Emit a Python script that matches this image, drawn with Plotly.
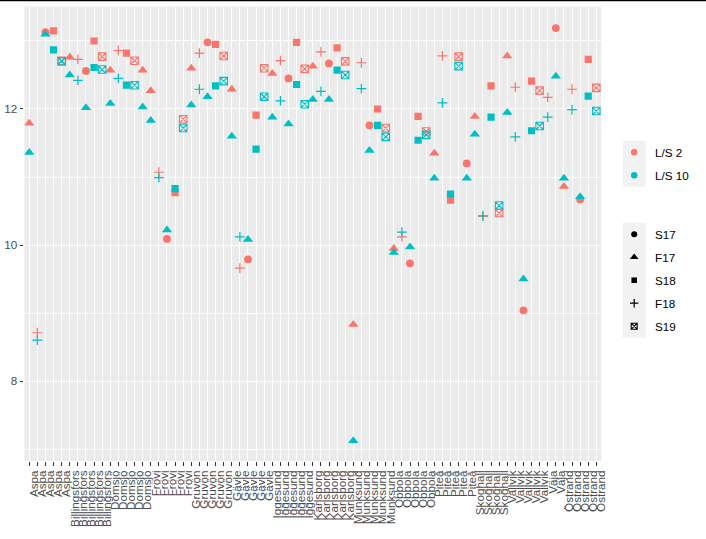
import plotly.graph_objects as go

# ---------------- data ----------------
sites = ["Aspa", "Billingsfors", "Domsjö", "Frövi", "Gruvön", "Gävle", "Iggesund",
         "Karlsborg", "Munksund", "Obbola", "Piteå", "Skoghall", "Vallvik", "Väja", "Östrand"]
site_counts = [5, 5, 5, 5, 5, 5, 5, 5, 5, 5, 5, 4, 5, 2, 5]
tick_labels = [s for s, c in zip(sites, site_counts) for _ in range(c)]

ls2_season = ["F17", "F18", "S17", "S18", "S19",
              "F17", "F18", "S17", "S18", "S19",
              "F17", "F18", "S18", "S19", "F17",
              "F17", "F18", "S17", "S18", "S19",
              "F17", "F18", "S17", "S18", "S19",
              "F17", "F18", "S17", "S18", "S19",
              "F17", "F18", "S17", "S18", "S19",
              "F17", "F18", "S17", "S18", "S19",
              "F17", "F18", "S17", "S18", "S19",
              "F17", "F18", "S17", "S18", "S19",
              "F17", "F18", "S18", "S19", "S17",
              "F17", "F18", "S18", "S19",
              "F17", "F18", "S17", "S18", "S19",
              "F18", "S17",
              "F17", "F18", "S17", "S18", "S19"]
ls10_season = ["F17" if s == "S17" else s for s in ls2_season]

ls2 = [11.79, 8.71, 13.13, 13.15, 12.71,
       12.76, 12.73, 12.56, 13.00, 12.77,
       12.57, 12.86, 12.82, 12.71, 12.57,
       12.27, 11.07, 10.09, 10.77, 11.85,
       12.60, 12.82, 12.98, 12.95, 12.78,
       12.29, 9.66, 9.79, 11.91, 12.60,
       12.52, 12.71, 12.45, 12.98, 12.59,
       12.63, 12.84, 12.67, 12.90, 12.70,
       8.83, 12.68, 11.76, 12.00, 11.72,
       9.95, 10.12, 9.73, 11.89, 11.67,
       11.35, 12.78, 10.66, 12.77, 11.20,
       11.89, 10.42, 12.34, 10.47,
       12.78, 12.32, 9.04, 12.41, 12.27,
       12.17, 13.19,
       10.86, 12.29, 10.67, 12.73, 12.31]

ls10 = [11.36, 8.60, 13.10, 12.87, 12.70,
        12.50, 12.42, 12.02, 12.61, 12.58,
        12.08, 12.45, 12.35, 12.35, 12.03,
        11.83, 10.99, 10.22, 10.83, 11.72,
        12.06, 12.29, 12.18, 12.34, 12.41,
        11.60, 10.12, 10.08, 11.41, 12.18,
        11.88, 12.12, 11.78, 12.36, 12.07,
        12.14, 12.26, 12.14, 12.57, 12.50,
        7.12, 12.30, 11.39, 11.76, 11.59,
        9.89, 10.19, 9.97, 11.54, 11.62,
        10.98, 12.09, 10.75, 12.63, 10.98,
        11.63, 10.43, 11.88, 10.58,
        11.95, 11.59, 9.50, 11.68, 11.75,
        11.88, 12.48,
        10.98, 11.99, 10.71, 12.19, 11.97]

series_names = ["L/S 2", "L/S 10"]
series_colors = ["#F8766D", "#00BFC4"]
seasons = ["S17", "F17", "S18", "F18", "S19"]
y_ticks = [8, 10, 12]

# ---------------- styles ----------------
symbols = {"S17": "circle", "F17": "triangle-up", "S18": "square",
           "F18": "cross-thin-open", "S19": "square-x-open"}
sizes = {"S17": 7.8, "F17": 9, "S18": 7.2, "F18": 7, "S19": 7.5}
lsizes = {"S17": 6, "F17": 7.5, "S18": 5.5, "F18": 6, "S19": 6}
lwidth = {"S17": 0, "F17": 0, "S18": 0, "F18": 1.2, "S19": 1.1}

FONT = "Liberation Sans, Arial, sans-serif"
W, H = 706, 539
px_l, px_r, px_t, px_b = 24.4, 601.2, 6.5, 461.0

fig = go.Figure()

for vals, seas, name, col in [(ls2, ls2_season, series_names[0], series_colors[0]),
                              (ls10, ls10_season, series_names[1], series_colors[1])]:
    for s in seasons:
        idx = [i for i, ss in enumerate(seas) if ss == s]
        if not idx:
            continue
        fig.add_trace(go.Scatter(
            x=idx, y=[vals[i] for i in idx], mode="markers", name=name,
            showlegend=False, xaxis="x", yaxis="y",
            marker=dict(symbol=symbols[s], size=sizes[s], color=col,
                        line=dict(width=lwidth[s], color=col)),
            hoverinfo="x+y"))

# ---- manual legend (pixel coordinates on an auxiliary axis) ----
leg_x_key = 634.2
leg_x_txt = 652.5
col_y = [152.2, 175.2]
shp_y = [234.2, 257.2, 280.2, 303.2, 326.2]

for name, col, yy in zip(series_names, series_colors, col_y):
    fig.add_trace(go.Scatter(x=[leg_x_key], y=[yy], mode="markers", xaxis="x2", yaxis="y2",
                             showlegend=False, hoverinfo="skip",
                             marker=dict(symbol="circle", size=6.5, color=col)))
for s, yy in zip(seasons, shp_y):
    fig.add_trace(go.Scatter(x=[leg_x_key], y=[yy], mode="markers", xaxis="x2", yaxis="y2",
                             showlegend=False, hoverinfo="skip",
                             marker=dict(symbol=symbols[s], size=lsizes[s], color="black",
                                         line=dict(width=lwidth[s], color="black"))))

annotations = []
for txt, yy in list(zip(series_names, col_y)) + list(zip(seasons, shp_y)):
    annotations.append(dict(x=leg_x_txt, y=yy, xref="x2", yref="y2", text=txt,
                            showarrow=False, xanchor="left", yanchor="middle",
                            font=dict(family=FONT, size=11.7, color="black")))

shapes = [
    # panel background
    dict(type="rect", xref="x domain", yref="y domain", x0=0, x1=1, y0=0, y1=1,
         fillcolor="#EBEBEB", line=dict(width=0), layer="below"),
    # legend key backgrounds
    dict(type="rect", xref="x2", yref="y2", x0=622.7, x1=645.7, y0=140.7, y1=186.7,
         fillcolor="#F2F2F2", line=dict(width=0), layer="below"),
    dict(type="rect", xref="x2", yref="y2", x0=622.7, x1=645.7, y0=222.7, y1=337.7,
         fillcolor="#F2F2F2", line=dict(width=0), layer="below"),
    # thin dark line at top of image
    dict(type="rect", xref="paper", yref="paper", x0=0, x1=1, y0=1 - 1.3 / H, y1=1,
         fillcolor="black", line=dict(width=0), layer="above"),
]

fig.update_layout(
    width=W, height=H,
    margin=dict(l=0, r=0, t=0, b=0, autoexpand=False),
    paper_bgcolor="white", plot_bgcolor="rgba(0,0,0,0)",
    template="none",
    showlegend=False,
    font=dict(family=FONT, size=11.7, color="#4D4D4D"),
    xaxis=dict(domain=[px_l / W, px_r / W], range=[-0.6, len(tick_labels) - 0.4],
               tickmode="array", tickvals=list(range(len(tick_labels))), ticktext=tick_labels,
               tickangle=-90, ticks="outside", ticklen=3.7, tickwidth=1, tickcolor="#333333",
               ticklabelshift=5,
               tickfont=dict(family=FONT, size=11.7, color="#4D4D4D"),
               showgrid=True, gridcolor="white", gridwidth=1.1,
               zeroline=False, showline=False, automargin=False, anchor="y"),
    yaxis=dict(domain=[(H - px_b) / H, (H - px_t) / H], range=[6.824, 13.507],
               tickmode="array", tickvals=y_ticks, ticks="outside", ticklen=3.7, tickwidth=1,
               tickcolor="#333333", tickfont=dict(family=FONT, size=11.7, color="#4D4D4D"),
               showgrid=True, gridcolor="white", gridwidth=1.1,
               minor=dict(tickmode="array", tickvals=[7, 9, 11, 13], showgrid=True,
                          gridcolor="white", gridwidth=0.55, ticklen=0),
               zeroline=False, showline=False, automargin=False, anchor="x"),
    xaxis2=dict(domain=[606 / W, 1], range=[606, 706], visible=False, anchor="y2",
                fixedrange=True),
    yaxis2=dict(domain=[0, 1], range=[H, 0], visible=False, anchor="x2", fixedrange=True),
    shapes=shapes,
    annotations=annotations,
)

fig.write_html("out.html")
